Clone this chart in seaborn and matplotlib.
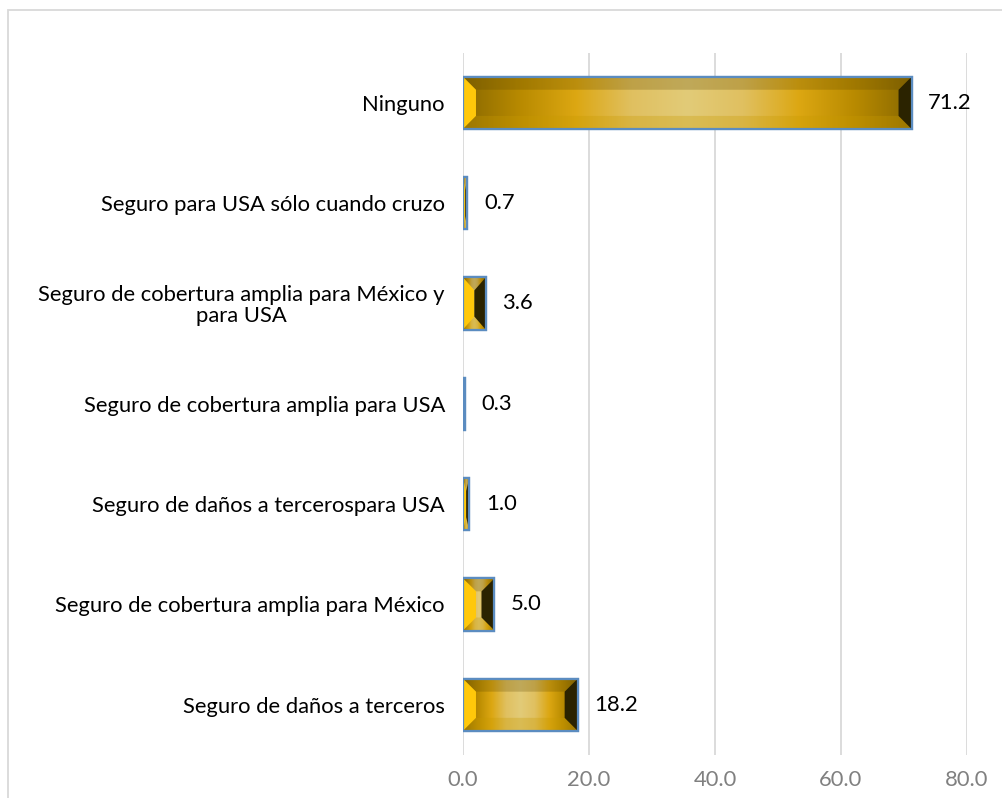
import numpy as np
import pandas as pd
import seaborn as sns
import matplotlib.pyplot as plt
from matplotlib.patches import Polygon, Rectangle
from matplotlib.colors import LinearSegmentedColormap

categories = [
    "Ninguno",
    "Seguro para USA sólo cuando cruzo",
    "Seguro de cobertura amplia para México y\npara USA",
    "Seguro de cobertura amplia para USA",
    "Seguro de daños a tercerospara USA",
    "Seguro de cobertura amplia para México",
    "Seguro de daños a terceros",
]
values = [71.2, 0.7, 3.6, 0.3, 1.0, 5.0, 18.2]
xticks = [0, 20, 40, 60, 80]

df = pd.DataFrame({"categoria": categories, "pct": values})

sns.set_style("white")
plt.rcParams["font.family"] = ["Lato", "DejaVu Sans"]

fig = plt.figure(figsize=(10.03, 7.98), dpi=100)
ax = fig.add_axes([0.4616, 0.054, 0.5025, 0.880])

sns.barplot(data=df, x="pct", y="categoria", orient="h", color="#D4A017",
            width=0.52, edgecolor="#5B8CC0", linewidth=1.6, ax=ax, zorder=2)

ax.set_xlim(0, 80)
ax.set_xticks(xticks)
ax.set_xticklabels([f"{t:.1f}" for t in xticks])
ax.set_xlabel("")
ax.set_ylabel("")
ax.grid(axis="x", color="#D9D9D9", linewidth=1.3, zorder=0)
ax.set_axisbelow(True)
for s in ax.spines.values():
    s.set_visible(False)
ax.tick_params(axis="y", length=0, pad=13, labelsize=15.8, labelcolor="black")
ax.tick_params(axis="x", length=0, pad=11, labelsize=15.8, labelcolor="#808080")
for lab in ax.get_yticklabels():
    lab.set_multialignment("center")
    lab.set_linespacing(1.05)

fig.canvas.draw()
# bevel size in pixels -> data units
inv = ax.transData.inverted()
p0 = inv.transform((0, 0))
p1 = inv.transform((13, 13))
bx = abs(p1[0] - p0[0])
by = abs(p1[1] - p0[1])

face_cmap = LinearSegmentedColormap.from_list(
    "gold", ["#8A6900", "#B88A00", "#DCA712", "#E0C060", "#E2CB78",
             "#E0C060", "#DCA712", "#B88A00", "#8A6900"])
grad = np.linspace(0, 1, 256)[None, :]

for patch, v in zip(ax.patches, values):
    x0, y0 = patch.get_x(), patch.get_y()
    w, h = patch.get_width(), patch.get_height()
    x1, y1 = x0 + w, y0 + h
    img = ax.imshow(grad, cmap=face_cmap, aspect="auto",
                    extent=(x0, x1, y1, y0), zorder=2.1)
    img.set_clip_path(patch)
    ex = min(bx, w / 2)
    ey = min(by, h / 2)
    # y axis inverted: y0 is top
    top = [(x0, y0), (x1, y0), (x1 - ex, y0 + ey), (x0 + ex, y0 + ey)]
    bot = [(x0, y1), (x1, y1), (x1 - ex, y1 - ey), (x0 + ex, y1 - ey)]
    left = [(x0, y0), (x0 + ex, y0 + ey), (x0 + ex, y1 - ey), (x0, y1)]
    right = [(x1, y0), (x1 - ex, y0 + ey), (x1 - ex, y1 - ey), (x1, y1)]
    ax.add_patch(Polygon(top, closed=True, facecolor="#5A4500", alpha=0.25,
                         edgecolor="none", zorder=2.2))
    ax.add_patch(Polygon(bot, closed=True, facecolor="#C89A00", alpha=0.3,
                         edgecolor="none", zorder=2.2))
    ax.add_patch(Polygon(left, closed=True, facecolor="#FFC80A",
                         edgecolor="none", zorder=2.3))
    ax.add_patch(Polygon(right, closed=True, facecolor="#2B2300",
                         edgecolor="none", zorder=2.3))
    # outline on top
    ax.add_patch(Rectangle((x0, y0), w, h, facecolor="none",
                           edgecolor="#5B8CC0", linewidth=1.6, zorder=2.4))
    ax.annotate(f"{v:.1f}", xy=(x1, y0 + h / 2), xytext=(12, 0),
                textcoords="offset points", va="center", ha="left",
                fontsize=15.8, color="black")

ax.set_ylim(len(categories) - 0.5, -0.5)

# outer chart border
fig.patches.append(Rectangle((8 / 1003, -0.05), 1.1, 1 - 10 / 798 + 0.05,
                             transform=fig.transFigure, facecolor="none",
                             edgecolor="#D9D9D9", linewidth=1.3))

fig.savefig("out.png", dpi=100)
